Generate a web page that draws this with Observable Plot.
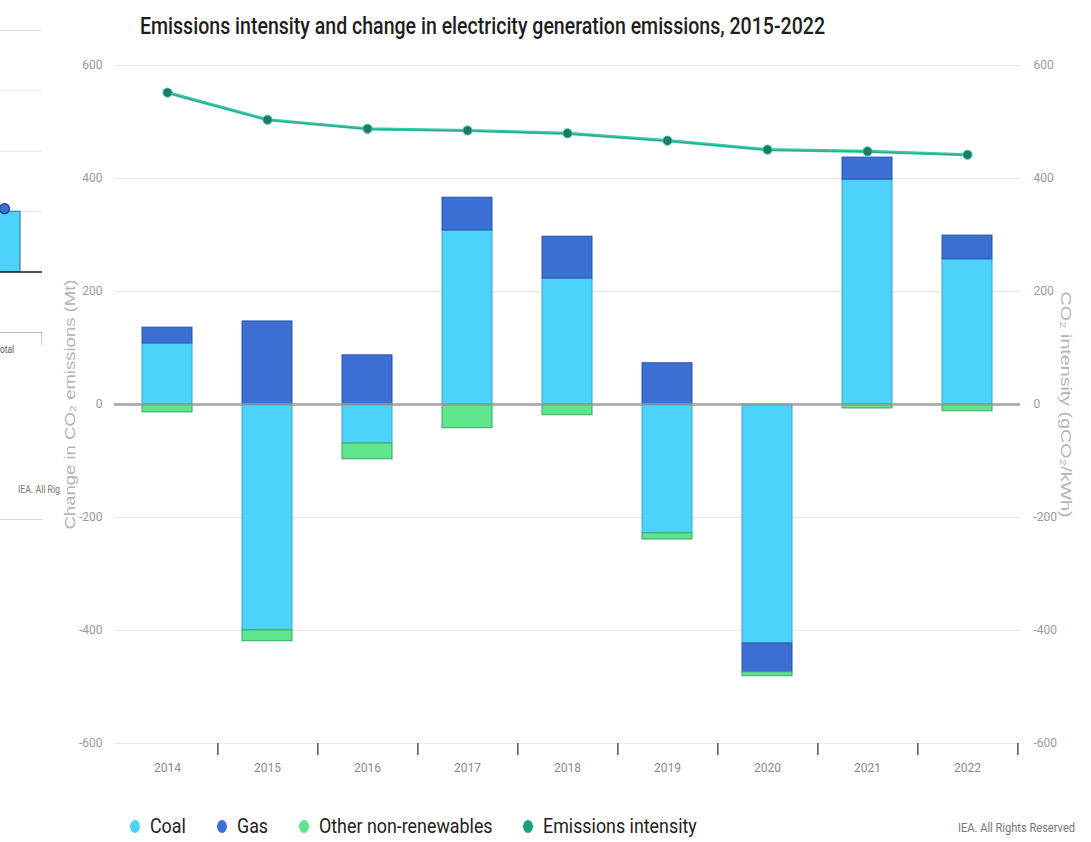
<!DOCTYPE html>
<html>
<head>
<meta charset="utf-8">
<script src="https://cdn.jsdelivr.net/npm/d3@7"></script>
<script src="https://cdn.jsdelivr.net/npm/@observablehq/plot@0.6"></script>
<style>
  html, body { margin: 0; padding: 0; background: #fff; }
  body { width: 1091px; height: 842px; position: relative; overflow: hidden; font-family: Roboto, "Liberation Sans", sans-serif; }
  svg { max-width: none !important; }
  #title { position: absolute; left: 140px; top: 13px; font-size: 23px; font-weight: 500; color: #1e1e1e; white-space: nowrap; transform-origin: 0 0; }
  #chart { position: absolute; left: 0; top: 0; }
  #legend { position: absolute; left: 130px; top: 814px; display: flex; align-items: center; font-size: 21px; color: #222; white-space: nowrap; }
  #legend .item { display: flex; align-items: center; margin-right: 31px; }
  #legend .sw { width: 10px; height: 13px; border-radius: 50%; margin-right: 10px; flex: none; }
  #legend .lab { display: inline-block; overflow: visible; }
  #legend .lab span { display: inline-block; transform-origin: 0 50%; }
  #credit { position: absolute; left: 958px; top: 821px; font-size: 12px; color: #777; white-space: nowrap; transform-origin: 0 0; }
  #side { position: absolute; left: 0; top: 0; width: 42px; height: 519px; overflow: hidden; border-bottom: 1px solid #d8d8d8; }
  #sidePlot { position: absolute; left: -34px; top: 0; width: 80px; }
  .sideText { position: absolute; font-size: 11px; color: #555; white-space: nowrap; transform-origin: 0 0; }
</style>
</head>
<body>
<div id="side"><div id="sidePlot"></div></div>
<div id="sideCat" class="sideText" style="left:0px; top:343px;"></div>
<div id="sideCredit" class="sideText" style="left:18px; top:483px; color:#777;"></div>
<div id="title"></div>
<div id="chart"></div>
<div id="legend"></div>
<div id="credit">IEA. All Rights Reserved</div>
<script>
// ---------- data ----------
const titleText = "Emissions intensity and change in electricity generation emissions, 2015-2022";
const years = ["2014", "2015", "2016", "2017", "2018", "2019", "2020", "2021", "2022"];
const coal = [108, -400, -69, 308, 223, -228, -423, 398, 257];
const gas = [28, 147, 87, 58, 74, 73, -51, 39, 42];
const otherNonRenewables = [-14, -19, -28, -42, -19, -11, -7, -7, -12];
const emissionsIntensity = [552, 504, 488, 485, 480, 467, 451, 448, 442];
const seriesNames = ["Coal", "Gas", "Other non-renewables"];
const legendNames = ["Coal", "Gas", "Other non-renewables", "Emissions intensity"];
const yTicks = [-600, -400, -200, 0, 200, 400, 600];
const leftLabel = "Change in CO₂ emissions (Mt)";
const rightLabel = "CO₂ intensity (gCO₂/kWh)";

// partial neighbouring chart visible at the left edge of the screenshot
const sideCategories = ["Total"];
const sideBar = [1];
const sideDot = [1.05];
const sideGrid = [1, 2, 3, 4];
const sideVisibleLabel = "otal";
const sideVisibleCredit = "IEA. All Rig";

const fillColors = {"Coal": "#4dd2fb", "Gas": "#3b6fd3", "Other non-renewables": "#5fe68d", "Emissions intensity": "#1a9e80"};
const strokeColors = {"Coal": "#3aa6c6", "Gas": "#2b56a8", "Other non-renewables": "#3aa66a"};

// ---------- title ----------
const titleEl = document.getElementById("title");
titleEl.textContent = titleText;
titleEl.style.transform = `scaleX(${685 / titleEl.getBoundingClientRect().width})`;

// ---------- main chart ----------
const seriesValues = [coal, gas, otherNonRenewables];
const rows = [];
years.forEach((y, i) => {
  seriesNames.forEach((s, j) => rows.push({year: y, series: s, value: seriesValues[j][i]}));
});
const lineRows = years.map((y, i) => ({year: y, value: emissionsIntensity[i]}));

const W = 1091, H = 790, mL = 114, mR = 71;
const step = (W - mL - mR) / years.length;
const fmt = d => String(d);

const plot = Plot.plot({
  width: W,
  height: H,
  marginTop: 65,
  marginBottom: 47,
  marginLeft: mL,
  marginRight: mR,
  style: {fontFamily: "Roboto, 'Liberation Sans', sans-serif", background: "transparent"},
  x: {domain: years, paddingInner: 0.5, paddingOuter: 0.25, axis: null},
  y: {domain: [-600, 600], axis: null},
  color: {type: "identity"},
  marks: [
    Plot.gridY(yTicks, {stroke: "#e6e6e6", strokeOpacity: 1, strokeWidth: 1.2}),
    Plot.barY(rows, {
      x: "year", y: "value",
      fill: d => fillColors[d.series],
      stroke: d => strokeColors[d.series],
      strokeWidth: 1
    }),
    Plot.ruleY([0], {stroke: "#999", strokeOpacity: 0.75, strokeWidth: 3}),
    Plot.lineY(lineRows, {x: "year", y: "value", stroke: "#36caa9", strokeWidth: 3.2}),
    Plot.lineY(lineRows, {x: "year", y: "value", stroke: "#2a6f60", strokeWidth: 1, strokeOpacity: 0.45, dy: 0.5}),
    Plot.dot(lineRows, {x: "year", y: "value", r: 4.6, fill: "#1f7a64", stroke: "#36caa9", strokeWidth: 1}),
    Plot.axisY({anchor: "left", ticks: yTicks, tickFormat: fmt, tickSize: 0, tickPadding: 12, label: null, fontSize: 12, color: "#9a9a9a"}),
    Plot.axisY({anchor: "right", ticks: yTicks, tickFormat: fmt, tickSize: 0, tickPadding: 13, label: null, fontSize: 12, color: "#9a9a9a"}),
    Plot.axisX({anchor: "bottom", tickSize: 12, tickFormat: () => "", label: null, dx: step / 2, stroke: "#555", strokeWidth: 1.5}),
    Plot.axisX({anchor: "bottom", tickSize: 0, tickPadding: 20, fontSize: 12, color: "#8a8a8a", label: null}),
    Plot.text([leftLabel], {frameAnchor: "left", textAnchor: "middle", dx: -44, rotate: -90, fontSize: 15, fill: "#b4b4b4", fontFamily: "'Liberation Sans', sans-serif", className: "axis-title-left"}),
    Plot.text([rightLabel], {frameAnchor: "right", textAnchor: "middle", dx: 45, rotate: 90, fontSize: 15, fill: "#b4b4b4", fontFamily: "'Liberation Sans', sans-serif", className: "axis-title-right"})
  ]
});
document.getElementById("chart").appendChild(plot);
// stretch the rotated axis titles along their length, as in the reference
[["axis-title-left", 250], ["axis-title-right", 226]].forEach(([cls, len]) => {
  plot.querySelectorAll(`.${cls} text`).forEach(t => {
    t.setAttribute("textLength", len);
    t.setAttribute("lengthAdjust", "spacingAndGlyphs");
  });
});

// ---------- left-edge fragment ----------
const sideRows = sideCategories.map((c, i) => ({cat: c, bar: sideBar[i], dot: sideDot[i]}));
const sidePlot = Plot.plot({
  width: 80, height: 362,
  marginTop: 30, marginBottom: 30, marginLeft: 0, marginRight: 4,
  style: {fontFamily: "Roboto, sans-serif", background: "transparent"},
  x: {domain: sideCategories, paddingInner: 0.58, paddingOuter: 0.29, axis: null},
  y: {domain: [-1, 4], axis: null},
  marks: [
    Plot.gridY(sideGrid, {stroke: "#e3e3e3", strokeOpacity: 1}),
    Plot.barY(sideRows, {x: "cat", y: "bar", fill: "#4dd2fb", stroke: "#2b6f93", strokeWidth: 1}),
    Plot.ruleY([0], {stroke: "#222", strokeWidth: 1.5}),
    Plot.ruleY([-1], {stroke: "#bbb", strokeWidth: 1}),
    Plot.dot(sideRows, {x: "cat", y: "dot", r: 5, fill: "#3b6fd3", stroke: "#1d3d80", strokeWidth: 1.2}),
    Plot.axisX({anchor: "bottom", tickSize: 13, tickFormat: () => "", label: null, dx: 38, stroke: "#333", strokeWidth: 1.5})
  ]
});
document.getElementById("sidePlot").appendChild(sidePlot);
const sideCat = document.getElementById("sideCat");
sideCat.textContent = sideVisibleLabel;
sideCat.style.transform = `scaleX(${14 / sideCat.getBoundingClientRect().width})`;
const sideCredit = document.getElementById("sideCredit");
sideCredit.textContent = sideVisibleCredit;
sideCredit.style.transform = `scaleX(${42 / sideCredit.getBoundingClientRect().width})`;

// ---------- legend ----------
const legend = document.getElementById("legend");
const legendScale = 0.85;
legendNames.forEach(n => {
  const item = document.createElement("div");
  item.className = "item";
  const sw = document.createElement("span");
  sw.className = "sw";
  sw.style.background = fillColors[n];
  const lab = document.createElement("span");
  lab.className = "lab";
  const inner = document.createElement("span");
  inner.textContent = n;
  lab.appendChild(inner);
  item.appendChild(sw);
  item.appendChild(lab);
  legend.appendChild(item);
  const w = inner.getBoundingClientRect().width;
  inner.style.transform = `scaleX(${legendScale})`;
  lab.style.width = (w * legendScale) + "px";
});

const credit = document.getElementById("credit");
credit.style.transform = `scaleX(${117 / credit.getBoundingClientRect().width})`;
</script>
</body>
</html>
